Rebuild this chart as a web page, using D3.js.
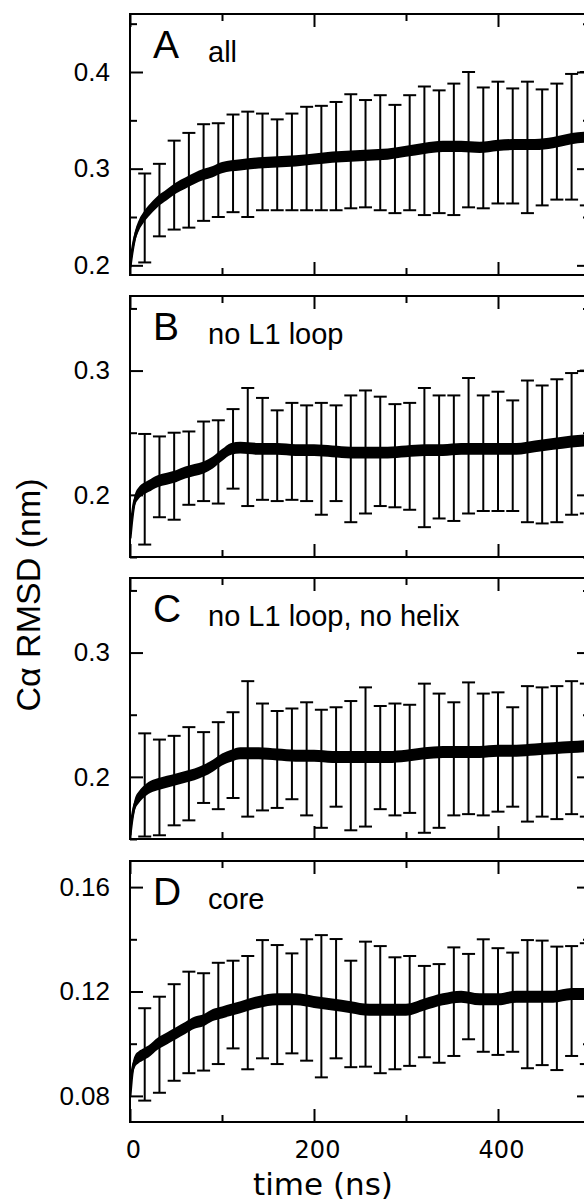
<!DOCTYPE html>
<html>
<head>
<meta charset="utf-8">
<script src="https://cdn.jsdelivr.net/npm/d3@7"></script>
<style>
  html, body { margin: 0; padding: 0; background: #fff; }
  svg { display: block; }
</style>
</head>
<body>
<svg id="chart" width="584" height="1203"></svg>
<script>
// ---------------- data ----------------
const panelLetters = ["A", "B", "C", "D"];
const panelTitles = ["all", "no L1 loop", "no L1 loop, no helix", "core"];

// time samples of the running RMSD curve (ns)
const times = [0, 2, 5, 10, 15, 20, 30, 40, 50, 60, 70, 80, 90, 100, 110, 120, 140, 160, 180, 200,
  220, 240, 260, 280, 300, 320, 340, 360, 380, 400, 420, 440, 460, 480, 500];

const meanA = [0.198, 0.212, 0.228, 0.242, 0.250, 0.256, 0.266, 0.273, 0.280, 0.285, 0.290, 0.294, 0.297, 0.301, 0.303, 0.304,
  0.306, 0.307, 0.308, 0.310, 0.312, 0.313, 0.314, 0.315, 0.318, 0.321, 0.323, 0.323, 0.322, 0.324, 0.325, 0.325, 0.327, 0.331, 0.333];
const meanB = [0.165, 0.180, 0.195, 0.202, 0.205, 0.207, 0.211, 0.213, 0.215, 0.218, 0.220, 0.222, 0.226, 0.232, 0.237, 0.238,
  0.237, 0.237, 0.236, 0.236, 0.235, 0.234, 0.234, 0.234, 0.235, 0.236, 0.236, 0.237, 0.237, 0.237, 0.237, 0.239, 0.241, 0.243, 0.244];
const meanC = [0.153, 0.165, 0.177, 0.184, 0.188, 0.191, 0.194, 0.196, 0.198, 0.200, 0.202, 0.205, 0.209, 0.214, 0.217, 0.219,
  0.219, 0.218, 0.217, 0.217, 0.216, 0.216, 0.216, 0.216, 0.217, 0.219, 0.220, 0.220, 0.220, 0.221, 0.221, 0.222, 0.223, 0.224, 0.225];
const meanD = [0.080, 0.088, 0.093, 0.095, 0.096, 0.097, 0.100, 0.102, 0.104, 0.106, 0.108, 0.109, 0.111, 0.112, 0.113, 0.114,
  0.116, 0.117, 0.117, 0.116, 0.115, 0.114, 0.113, 0.113, 0.113, 0.115, 0.117, 0.118, 0.117, 0.117, 0.118, 0.118, 0.118, 0.119, 0.119];

// half-width of the noisy band (nm)
const noiseA = 0.0058, noiseB = 0.0048, noiseC = 0.0048, noiseD = 0.0023;

// error bars
const barTimes = [16, 32, 48, 64, 80, 96, 112, 128, 144, 160, 176, 192, 208, 224, 240, 256, 272, 288, 304, 320,
  336, 352, 368, 384, 400, 416, 432, 448, 464, 480, 496];

const barHiA = [0.295, 0.305, 0.329, 0.337, 0.346, 0.347, 0.356, 0.359, 0.357, 0.351, 0.357, 0.364, 0.365, 0.369, 0.377, 0.371,
  0.376, 0.366, 0.376, 0.385, 0.381, 0.388, 0.400, 0.384, 0.390, 0.383, 0.390, 0.382, 0.388, 0.398, 0.400];
const barLoA = [0.203, 0.230, 0.237, 0.239, 0.246, 0.250, 0.255, 0.250, 0.257, 0.257, 0.257, 0.257, 0.257, 0.257, 0.259, 0.260,
  0.257, 0.254, 0.257, 0.252, 0.254, 0.252, 0.260, 0.259, 0.264, 0.264, 0.254, 0.262, 0.268, 0.268, 0.262];

const barHiB = [0.249, 0.247, 0.250, 0.251, 0.259, 0.260, 0.269, 0.286, 0.278, 0.268, 0.274, 0.272, 0.274, 0.272, 0.280, 0.284,
  0.279, 0.273, 0.274, 0.286, 0.280, 0.280, 0.294, 0.280, 0.283, 0.276, 0.292, 0.288, 0.293, 0.298, 0.300];
const barLoB = [0.160, 0.182, 0.180, 0.192, 0.195, 0.193, 0.205, 0.191, 0.196, 0.195, 0.196, 0.195, 0.184, 0.195, 0.178, 0.185,
  0.191, 0.190, 0.188, 0.174, 0.181, 0.179, 0.185, 0.187, 0.187, 0.187, 0.178, 0.177, 0.178, 0.184, 0.185];

const barHiC = [0.235, 0.230, 0.233, 0.240, 0.236, 0.244, 0.252, 0.277, 0.259, 0.253, 0.255, 0.260, 0.254, 0.256, 0.261, 0.272,
  0.257, 0.259, 0.258, 0.275, 0.267, 0.260, 0.276, 0.267, 0.268, 0.256, 0.273, 0.272, 0.273, 0.277, 0.275];
const barLoC = [0.152, 0.153, 0.161, 0.165, 0.179, 0.174, 0.183, 0.168, 0.173, 0.175, 0.182, 0.169, 0.159, 0.176, 0.157, 0.160,
  0.174, 0.169, 0.171, 0.155, 0.159, 0.169, 0.170, 0.169, 0.172, 0.176, 0.164, 0.168, 0.166, 0.170, 0.168];

const barHiD = [0.1136, 0.1180, 0.1228, 0.1276, 0.1270, 0.1310, 0.1318, 0.1336, 0.1397, 0.1378, 0.1346, 0.1400, 0.1416, 0.1401,
  0.1318, 0.1391, 0.1374, 0.1331, 0.1336, 0.1298, 0.1305, 0.1369, 0.1344, 0.1400, 0.1366, 0.1349, 0.1397, 0.1395, 0.1372, 0.1374, 0.1385];
const barLoD = [0.0782, 0.0812, 0.0858, 0.0887, 0.0897, 0.0922, 0.0982, 0.0902, 0.0944, 0.0922, 0.0963, 0.0935, 0.0871, 0.0944,
  0.0910, 0.0912, 0.0887, 0.0902, 0.0915, 0.0948, 0.0927, 0.0953, 0.1017, 0.0969, 0.0957, 0.0969, 0.0906, 0.0918, 0.0899, 0.0953, 0.0922];

// axes
const xDomain = [0, 500];
const xMajorTicks = [0, 200, 400];
const xMinorTicks = [100, 300, 500];
const xLabel = "time (ns)";
const yLabel = "C\u03B1  RMSD (nm)";

const yDomainA = [0.19, 0.46], yMajorA = [0.2, 0.3, 0.4], yMinorA = [0.25, 0.35, 0.45];
const yDomainB = [0.15, 0.36], yMajorB = [0.2, 0.3], yMinorB = [0.15, 0.25, 0.35];
const yDomainC = [0.15, 0.36], yMajorC = [0.2, 0.3], yMinorC = [0.15, 0.25, 0.35];
const yDomainD = [0.07, 0.17], yMajorD = [0.08, 0.12, 0.16], yMinorD = [0.10, 0.14];

// ---------------- layout ----------------
const svg = d3.select("#chart");
svg.append("rect").attr("width", 584).attr("height", 1203).attr("fill", "#fff");

const left = 130, right = 590, panelH = 261;
const panelTops = [14, 296, 578, 861];
const x = d3.scaleLinear().domain(xDomain).range([left, right]);

const panels = [
  { mean: meanA, noise: noiseA, hi: barHiA, lo: barLoA, dom: yDomainA, maj: yMajorA, min: yMinorA, fmt: d3.format(".1f") },
  { mean: meanB, noise: noiseB, hi: barHiB, lo: barLoB, dom: yDomainB, maj: yMajorB, min: yMinorB, fmt: d3.format(".1f") },
  { mean: meanC, noise: noiseC, hi: barHiC, lo: barLoC, dom: yDomainC, maj: yMajorC, min: yMinorC, fmt: d3.format(".1f") },
  { mean: meanD, noise: noiseD, hi: barHiD, lo: barLoD, dom: yDomainD, maj: yMajorD, min: yMinorD, fmt: d3.format(".2f") }
];

const MAJ = 13, MIN = 7, SW = 2;

panels.forEach((p, i) => {
  const top = panelTops[i], bottom = top + panelH;
  const y = d3.scaleLinear().domain(p.dom).range([bottom, top]);
  const g = svg.append("g");

  const clipId = "clip" + i;
  svg.append("clipPath").attr("id", clipId)
    .append("rect").attr("x", left).attr("y", top).attr("width", right - left).attr("height", panelH);

  // noisy band
  const pts = times.map((t, k) => ({ t, m: p.mean[k] }));
  const area = d3.area()
    .x(d => x(d.t))
    .y0(d => y(d.m - p.noise))
    .y1(d => y(d.m + p.noise))
    .curve(d3.curveMonotoneX);
  g.append("path").datum(pts).attr("d", area).attr("fill", "#000")
    .attr("clip-path", `url(#${clipId})`);
  g.append("path").datum(pts)
    .attr("d", d3.line().x(d => x(d.t)).y(d => y(d.m)).curve(d3.curveMonotoneX))
    .attr("fill", "none").attr("stroke", "#000").attr("stroke-width", 3)
    .attr("clip-path", `url(#${clipId})`);

  // error bars
  const bars = barTimes.map((t, k) => ({ t, hi: p.hi[k], lo: p.lo[k] }));
  const eb = g.append("g").attr("stroke", "#000").attr("stroke-width", SW).attr("fill", "none");
  eb.selectAll("line.v").data(bars).join("line").attr("class", "v")
    .attr("x1", d => x(d.t)).attr("x2", d => x(d.t))
    .attr("y1", d => y(d.lo)).attr("y2", d => y(d.hi));
  eb.selectAll("line.ct").data(bars).join("line").attr("class", "ct")
    .attr("x1", d => x(d.t) - 6.5).attr("x2", d => x(d.t) + 6.5)
    .attr("y1", d => y(d.hi)).attr("y2", d => y(d.hi));
  eb.selectAll("line.cb").data(bars).join("line").attr("class", "cb")
    .attr("x1", d => x(d.t) - 6.5).attr("x2", d => x(d.t) + 6.5)
    .attr("y1", d => y(d.lo)).attr("y2", d => y(d.lo));

  // axes (ticks inward on all four sides)
  const styleAxis = sel => {
    sel.select(".domain").remove();
    sel.selectAll(".tick line").attr("stroke", "#000").attr("stroke-width", SW);
  };
  g.append("g").attr("transform", `translate(${left},0)`)
    .call(d3.axisLeft(y).tickValues(p.maj).tickSize(-MAJ).tickPadding(20).tickFormat(p.fmt))
    .call(styleAxis)
    .call(s => s.selectAll("text").attr("fill", "#000")
      .style("font-family", "'Liberation Sans', Arial, sans-serif").style("font-size", "26px"));
  g.append("g").attr("transform", `translate(${left},0)`)
    .call(d3.axisLeft(y).tickValues(p.min).tickSize(-MIN).tickFormat(""))
    .call(styleAxis);
  g.append("g").attr("transform", `translate(${right},0)`)
    .call(d3.axisRight(y).tickValues(p.maj).tickSize(-MAJ).tickFormat(""))
    .call(styleAxis);
  g.append("g").attr("transform", `translate(${right},0)`)
    .call(d3.axisRight(y).tickValues(p.min).tickSize(-MIN).tickFormat(""))
    .call(styleAxis);

  g.append("g").attr("transform", `translate(0,${top})`)
    .call(d3.axisTop(x).tickValues(xMajorTicks).tickSize(-MAJ).tickFormat(""))
    .call(styleAxis);
  g.append("g").attr("transform", `translate(0,${top})`)
    .call(d3.axisTop(x).tickValues(xMinorTicks).tickSize(-MIN).tickFormat(""))
    .call(styleAxis);
  const bAx = g.append("g").attr("transform", `translate(0,${bottom})`)
    .call(d3.axisBottom(x).tickValues(xMajorTicks).tickSize(-MAJ).tickPadding(19)
      .tickFormat(i === panels.length - 1 ? d3.format("d") : ""))
    .call(styleAxis);
  bAx.selectAll("text").attr("fill", "#000").attr("dx", 3)
    .style("font-family", "'DejaVu Sans', sans-serif").style("font-size", "24px");
  g.append("g").attr("transform", `translate(0,${bottom})`)
    .call(d3.axisBottom(x).tickValues(xMinorTicks).tickSize(-MIN).tickFormat(""))
    .call(styleAxis);

  // frame
  g.append("rect").attr("x", left).attr("y", top).attr("width", right - left).attr("height", panelH)
    .attr("fill", "none").attr("stroke", "#000").attr("stroke-width", SW);

  // panel letter and title
  g.append("text").attr("x", 153).attr("y", top + 44).text(panelLetters[i])
    .style("font-family", "'Liberation Sans', Arial, sans-serif").style("font-size", "39px").attr("fill", "#000");
  g.append("text").attr("x", 208).attr("y", top + 48).text(panelTitles[i])
    .style("font-family", "'Liberation Sans', Arial, sans-serif").style("font-size", "29px").attr("fill", "#000");
});

// axis titles
svg.append("text").attr("x", 323).attr("y", 1195).attr("text-anchor", "middle").text(xLabel)
  .style("font-family", "'DejaVu Sans', sans-serif").style("font-size", "31px").attr("fill", "#000");
svg.append("text").attr("transform", "translate(40,595) rotate(-90)").attr("text-anchor", "middle").text(yLabel)
  .style("font-family", "'Liberation Sans', Arial, sans-serif").style("font-size", "34px").attr("fill", "#000");
</script>
</body>
</html>
